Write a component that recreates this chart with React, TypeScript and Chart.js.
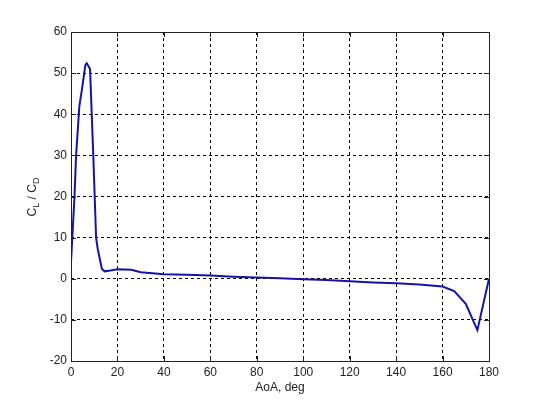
import React, { useEffect, useRef } from "react";
import { Chart, registerables } from "chart.js";

Chart.register(...registerables);

const aoa = [0, 1.5, 2.2, 3.6, 4.7, 6.2, 6.8, 8.2, 9.6, 10.8, 11.5, 13.3, 14.5, 17, 20, 26, 30, 40, 50, 60, 70, 80, 90, 100, 110, 120, 130, 140, 150, 160, 165, 170, 175, 180];
const clcd = [4, 20, 30, 42, 46, 52, 52.4, 51, 30, 10, 7.3, 2.4, 1.8, 2, 2.3, 2.2, 1.6, 1.1, 1.0, 0.8, 0.5, 0.3, 0.1, -0.1, -0.3, -0.6, -0.9, -1.1, -1.4, -1.9, -3, -6.1, -12.5, 0];

const xTitle = "AoA, deg";
const yTitleMain = ["C", "L", " / C", "D"];

const FONT = "'Liberation Sans', Arial, Helvetica, sans-serif";

export default function App() {
  const ref = useRef<HTMLCanvasElement>(null);

  useEffect(() => {
    if (!ref.current) return;
    const matlab = {
      id: "matlab",
      afterDraw(chart: any) {
        const { ctx, chartArea: a, scales } = chart;
        const xs = scales.x;
        const ys = scales.y;
        ctx.save();
        ctx.strokeStyle = "#222";
        ctx.lineWidth = 1;
        // box
        ctx.strokeRect(Math.round(a.left) + 0.5, Math.round(a.top) + 0.5, Math.round(a.right - a.left), Math.round(a.bottom - a.top));
        // inward ticks
        const tl = 5;
        ctx.beginPath();
        xs.ticks.forEach((t: any) => {
          const px = Math.round(xs.getPixelForValue(t.value)) + 0.5;
          ctx.moveTo(px, a.bottom);
          ctx.lineTo(px, a.bottom - tl);
          ctx.moveTo(px, a.top);
          ctx.lineTo(px, a.top + tl);
        });
        ys.ticks.forEach((t: any) => {
          const py = Math.round(ys.getPixelForValue(t.value)) + 0.5;
          ctx.moveTo(a.left, py);
          ctx.lineTo(a.left + tl, py);
          ctx.moveTo(a.right, py);
          ctx.lineTo(a.right - tl, py);
        });
        ctx.stroke();
        // x title
        ctx.fillStyle = "#222";
        ctx.font = `12px ${FONT}`;
        ctx.textAlign = "center";
        ctx.textBaseline = "middle";
        ctx.fillText(xTitle, (a.left + a.right) / 2, 388);
        // y title with subscripts
        ctx.translate(32, 197);
        ctx.rotate(-Math.PI / 2);
        const big = `12px ${FONT}`;
        const small = `9px ${FONT}`;
        const parts = yTitleMain.map((s, i) => ({ s, sub: i % 2 === 1 }));
        let total = 0;
        parts.forEach((p) => {
          ctx.font = p.sub ? small : big;
          total += ctx.measureText(p.s).width;
        });
        let x = -total / 2;
        ctx.textAlign = "left";
        ctx.textBaseline = "alphabetic";
        parts.forEach((p) => {
          ctx.font = p.sub ? small : big;
          ctx.fillText(p.s, x, p.sub ? 7 : 4);
          x += ctx.measureText(p.s).width;
        });
        ctx.restore();
      },
    };

    const chart = new Chart(ref.current, {
      type: "line",
      data: {
        datasets: [
          {
            data: aoa.map((x, i) => ({ x, y: clcd[i] })),
            borderColor: "#1414a8",
            borderWidth: 2,
            pointRadius: 0,
            tension: 0,
            fill: false,
          },
        ],
      },
      options: {
        animation: false,
        responsive: false,
        maintainAspectRatio: false,
        layout: { padding: { left: 0, right: 51, top: 32, bottom: 0 } },
        plugins: { legend: { display: false }, tooltip: { enabled: false } },
        scales: {
          x: {
            type: "linear",
            min: 0,
            max: 180,
            ticks: { stepSize: 20, color: "#222", font: { family: FONT, size: 12 }, padding: 4, maxRotation: 0 },
            grid: { color: "#000", drawTicks: false, lineWidth: 1 },
            border: { display: false, dash: [3, 3] },
            afterFit: (s: any) => {
              s.height = 44;
            },
          },
          y: {
            min: -20,
            max: 60,
            ticks: { stepSize: 10, color: "#222", font: { family: FONT, size: 12 }, padding: 4 },
            grid: { color: "#000", drawTicks: false, lineWidth: 1 },
            border: { display: false, dash: [3, 3] },
            afterFit: (s: any) => {
              s.width = 71;
            },
          },
        },
      },
      plugins: [matlab],
    });
    return () => chart.destroy();
  }, []);

  return (
    <div style={{ position: "fixed", left: 0, top: 0, width: 540, height: 405, background: "#fff" }}>
      <canvas ref={ref} width={540} height={405} style={{ width: 540, height: 405 }} />
    </div>
  );
}
